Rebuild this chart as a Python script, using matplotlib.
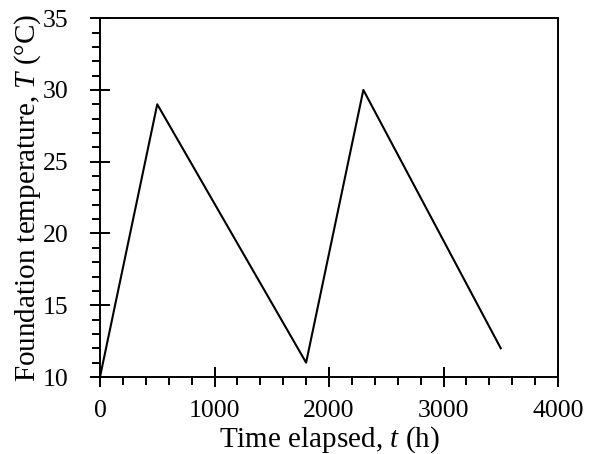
import matplotlib.pyplot as plt
from matplotlib.ticker import MultipleLocator

plt.rcParams['font.family'] = ['Liberation Serif', 'DejaVu Serif']
plt.rcParams['mathtext.fontset'] = 'custom'
plt.rcParams['mathtext.it'] = 'Liberation Serif:italic'
plt.rcParams['mathtext.rm'] = 'Liberation Serif'

# data
time_h = [0, 500, 1800, 2300, 3500]
temp_c = [10, 29, 11, 30, 12]

fig = plt.figure(figsize=(5.97, 4.54), dpi=100)
ax = fig.add_axes([0.1675, 0.1696, 0.7672, 0.7904])

ax.plot(time_h, temp_c, color='black', lw=1.5)

ax.set_xlim(0, 4000)
ax.set_ylim(10, 35)
ax.xaxis.set_major_locator(MultipleLocator(1000))
ax.xaxis.set_minor_locator(MultipleLocator(200))
ax.yaxis.set_major_locator(MultipleLocator(5))
ax.yaxis.set_minor_locator(MultipleLocator(1))

ax.tick_params(which='major', direction='inout', length=15, width=1.4, labelsize=18.5)
ax.tick_params(axis='x', which='major', pad=9)
ax.tick_params(axis='y', which='major', pad=15)
ax.tick_params(which='minor', direction='out', length=6, width=1.4)
for s in ax.spines.values():
    s.set_linewidth(1.4)

ax.set_xlabel('Time elapsed, $t$ (h)', fontsize=21, labelpad=2)
ax.set_ylabel('Foundation temperature, $T$ (°C)', fontsize=21, labelpad=0)

fig.savefig('out.png', dpi=100)
